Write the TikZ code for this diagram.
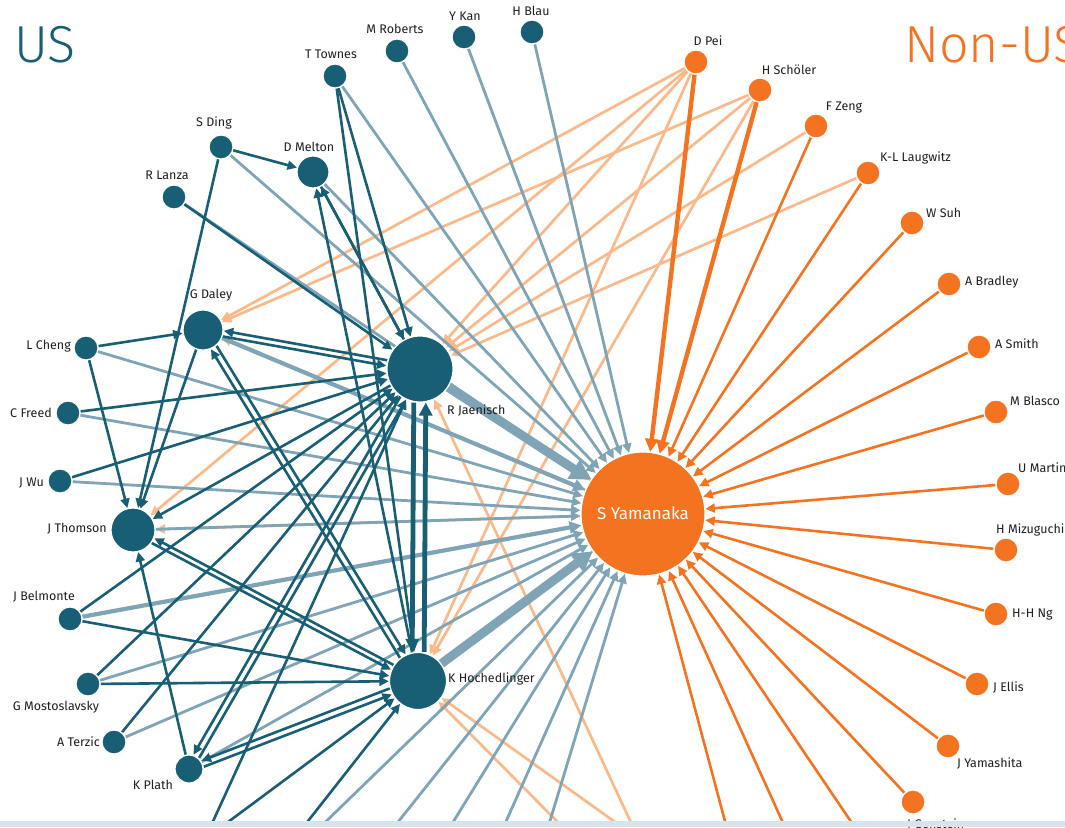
\documentclass[tikz,border=0pt]{standalone}
\usepackage{fontspec}
\setmainfont{Fira Sans}
\newfontfamily\titlefont{Fira Sans Light}
\usetikzlibrary{arrows.meta}
\definecolor{usc}{RGB}{24,94,117}
\definecolor{usl}{RGB}{127,164,182}
\definecolor{nuc}{RGB}{243,115,33}
\definecolor{nul}{RGB}{251,185,138}
\definecolor{band}{RGB}{216,228,236}
\definecolor{txt}{RGB}{30,30,30}
\newcommand\labfont{\fontsize{12.5}{13}\selectfont}
\pgfdeclarelayer{edges}
\pgfsetlayers{edges,main}
\begin{document}
\begin{tikzpicture}[x=1pt,y=-1pt,
  us/.style={circle,fill=usc,draw=white,line width=1.2pt,inner sep=0pt,minimum size=#1},
  nu/.style={circle,fill=nuc,draw=white,line width=1.2pt,inner sep=0pt,minimum size=#1},
  lab/.style={font=\labfont,text=txt,inner sep=0pt},
  dk/.style={draw=usc,line width=2.6pt,-{Triangle[length=9.5pt,width=9pt]}},
  dkt/.style={draw=usc,line width=4.8pt,-{Triangle[length=13pt,width=13pt]}},
  lb/.style={draw=usl,line width=2.8pt,-{Triangle[length=9.5pt,width=9pt]}},
  lbm/.style={draw=usl,line width=4.2pt,-{Triangle[length=12pt,width=12pt]}},
  lbt/.style={draw=usl,line width=9pt,-{Triangle[length=20pt,width=22pt]}},
  lo/.style={draw=nul,line width=2.7pt,-{Triangle[length=9.5pt,width=9pt]}},
  og/.style={draw=nuc,line width=2.6pt,-{Triangle[length=9.5pt,width=9pt]}},
  ogt/.style={draw=nuc,line width=4.4pt,-{Triangle[length=13pt,width=13pt]}},
  sh/.style={transform canvas={shift={#1}}}
]
\useasboundingbox (0,0) rectangle (1065,827);

% titles
\node[font=\titlefont\fontsize{52}{52}\selectfont,text=usc,anchor=west,inner sep=0pt] (tus) at (14,45) {US};
\node[font=\titlefont\fontsize{52}{52}\selectfont,text=nuc,anchor=west,inner sep=0pt] (tnu) at (904,45) {Non-US};

% US nodes
\node[us=24pt] (tt) at (335,76) {};
\node[us=24pt] (mr) at (397,51) {};
\node[us=24pt] (yk) at (464,37) {};
\node[us=24pt] (hb) at (532,32) {};
\node[us=24pt] (sd) at (221,147) {};
\node[us=32pt] (dm) at (313,172) {};
\node[us=24pt] (rl) at (174,197) {};
\node[us=40pt] (gd) at (203,330) {};
\node[us=24pt] (lc) at (86,348) {};
\node[us=24pt] (cf) at (68,413) {};
\node[us=24pt] (jw) at (60,481) {};
\node[us=44pt] (jt) at (133,530) {};
\node[us=24pt] (jb) at (70,619) {};
\node[us=24pt] (gm) at (88,684) {};
\node[us=24pt] (at) at (114,742) {};
\node[us=28pt] (kp) at (189,769) {};
\node[us=66pt] (rj) at (420,369) {};
\node[us=57pt] (kh) at (418,681) {};

% Non-US nodes
\node[nu=24pt] (dp) at (696,62) {};
\node[nu=24pt] (hs) at (760,90) {};
\node[nu=24pt] (fz) at (816,126) {};
\node[nu=24pt] (kl) at (868,173) {};
\node[nu=24pt] (ws) at (912,223) {};
\node[nu=24pt] (ab) at (949,284) {};
\node[nu=24pt] (as) at (979,347) {};
\node[nu=24pt] (mb) at (996,412) {};
\node[nu=24pt] (um) at (1008,484) {};
\node[nu=24pt] (hm) at (1006,550) {};
\node[nu=24pt] (hn) at (996,614) {};
\node[nu=24pt] (je) at (977,684) {};
\node[nu=24pt] (jy) at (948,746) {};
\node[nu=24pt] (jg) at (913,802) {};
\node[nu=124pt] (sy) at (643,514) {};
\node[font=\fontsize{17}{17}\selectfont,text=white,inner sep=0pt] (syl) at (643,513) {S Yamanaka};

% off-screen sources
\coordinate (b1) at (177,900);
\coordinate (b2) at (123,900);
\coordinate (b3) at (246,900);
\coordinate (b4) at (245,900);
\coordinate (b5) at (336,900);
\coordinate (b6) at (405,900);
\coordinate (b7) at (471,900);
\coordinate (b8) at (526,900);
\coordinate (b9) at (635,900);
\coordinate (b10) at (724,900);
\coordinate (b11) at (667,900);
\coordinate (b12) at (746,900);
\coordinate (b13) at (818,900);
\coordinate (b14) at (904,900);

% labels
\node[lab] (ltt) at (331,54) {T Townes};
\node[lab] (lmr) at (395,29) {M Roberts};
\node[lab] (lyk) at (465,16) {Y Kan};
\node[lab] (lhb) at (531,11) {H Blau};
\node[lab] (lsd) at (214,123) {S Ding};
\node[lab] (ldm) at (309,147) {D Melton};
\node[lab] (lrl) at (167,175) {R Lanza};
\node[lab] (lgd) at (211,295) {G Daley};
\node[lab,anchor=east] (llc) at (71,346) {L Cheng};
\node[lab,anchor=east] (lcf) at (52,413) {C Freed};
\node[lab,anchor=east] (ljw) at (44,483) {J Wu};
\node[lab,anchor=east] (ljt) at (107,529) {J Thomson};
\node[lab] (ljb) at (44,597) {J Belmonte};
\node[lab] (lgm) at (56,707) {G Mostoslavsky};
\node[lab,anchor=east] (lat) at (100,742) {A Terzic};
\node[lab] (lkp) at (153,785) {K Plath};
\node[lab,anchor=west] (lrj) at (447,410) {R Jaenisch};
\node[lab,anchor=west] (lkh) at (448,679) {K Hochedlinger};
\node[lab] (ldp) at (708,41) {D Pei};
\node[lab] (lhs) at (789,70) {H Schöler};
\node[lab] (lfz) at (844,108) {F Zeng};
\node[lab,anchor=west] (lkl) at (880,158) {K-L Laugwitz};
\node[lab,anchor=west] (lws) at (926,213) {W Suh};
\node[lab,anchor=west] (lab) at (965,282) {A Bradley};
\node[lab,anchor=west] (las) at (995,344) {A Smith};
\node[lab,anchor=west] (lmb) at (1010,401) {M Blasco};
\node[lab,anchor=west] (lum) at (1018,468) {U Martin};
\node[lab,anchor=west] (lhm) at (996,530) {H Mizuguchi};
\node[lab,anchor=west] (lhn) at (1012,615) {H-H Ng};
\node[lab,anchor=west] (lje) at (993,687) {J Ellis};
\node[lab,anchor=west] (ljy) at (957,763) {J Yamashita};
\node[lab,anchor=west] (ljg) at (907,824) {J Genstein};

% bottom band
\fill[band] (0,821) rectangle (1065,827);

\begin{pgfonlayer}{edges}
\clip (0,0) rectangle (1065,821);
% light orange: non-US -> US
\draw[lo] (dp) -- (gd);
\draw[lo] (hs) -- (gd);
\draw[lo] (dp) -- (jt);
\draw[lo] (dp) -- (rj);
\draw[lo] (hs) -- (rj);
\draw[lo] (fz) -- (rj);
\draw[lo] (kl) -- (rj);
\draw[lo] (dp) -- (kh);
\draw[lo] (hs) -- (kh);
\draw[lo] (sy) -- (jt);
\draw[lo] (sy) -- (gd);
\draw[lo] (sy) -- (rj);
\draw[lo] (sy) -- (kh);
\draw[lo] (b9) -- (kh);
\draw[lo] (b10) -- (kh);
\draw[lo] (b11) -- (rj);
% light blue: US -> non-US
\draw[lb] (tt) -- (sy);
\draw[lb] (mr) -- (sy);
\draw[lb] (yk) -- (sy);
\draw[lb] (hb) -- (sy);
\draw[lb] (sd) -- (sy);
\draw[lb] (dm) -- (sy);
\draw[lb] (rl) -- (sy);
\draw[lbm] (gd) -- (sy);
\draw[lb] (lc) -- (sy);
\draw[lb] (cf) -- (sy);
\draw[lb] (jw) -- (sy);
\draw[lb] (jt) -- (sy);
\draw[lbm] (jb) -- (sy);
\draw[lb] (gm) -- (sy);
\draw[lb] (at) -- (sy);
\draw[lb] (kp) -- (sy);
\draw[lb] (b4) -- (sy);
\draw[lb] (b5) -- (sy);
\draw[lb] (b6) -- (sy);
\draw[lb] (b7) -- (sy);
\draw[lb] (b8) -- (sy);
\draw[lbt] (rj) -- (sy);
\draw[lbt] (kh) -- (sy);
% dark: US -> US
\draw[dk] (sd) -- (dm);
\draw[dk] (sd) -- (jt);
\draw[dk] (lc) -- (gd);
\draw[dk] (lc) -- (jt);
\draw[dk] (gd) -- (jt);
\draw[dk] (rl) -- (rj);
\draw[dk] (tt) -- (rj);
\draw[dk] (tt) -- (kh);
\draw[dk] (dm) -- (rj);
\draw[dk] (cf) -- (rj);
\draw[dk] (jw) -- (rj);
\draw[dk] (jb) -- (rj);
\draw[dk] (gm) -- (rj);
\draw[dk] (at) -- (rj);
\draw[dk] (rj) -- (jt);
\draw[dk,sh={(1.3pt,2.4pt)}] (kh) -- (jt);
\draw[dk,sh={(-1.3pt,-2.4pt)}] (jt) -- (kh);
\draw[dk] (jb) -- (kh);
\draw[dk] (gm) -- (kh);
\draw[dk,sh={(0.5pt,2.8pt)}] (rj) -- (gd);
\draw[dk,sh={(-0.5pt,-2.8pt)}] (gd) -- (rj);
\draw[dk,sh={(2.8pt,1.7pt)}] (gd) -- (kh);
\draw[dk,sh={(-2.8pt,-1.7pt)}] (kh) -- (gd);
\draw[dkt,sh={(-6pt,0pt)}] (rj) -- (kh);
\draw[dkt,sh={(6pt,0pt)}] (kh) -- (rj);
\draw[dk] (rj) -- (dm);
\draw[dk] (kh) -- (dm);
\draw[dk,sh={(2.8pt,-1.6pt)}] (kp) -- (rj);
\draw[dk,sh={(-2.8pt,1.6pt)}] (rj) -- (kp);
\draw[dk,sh={(1.1pt,-3pt)}] (kp) -- (kh);
\draw[dk,sh={(-1.1pt,3pt)}] (kh) -- (kp);
\draw[dk] (kp) -- (jt);
\draw[dk] (b1) -- (rj);
\draw[dk] (b2) -- (kh);
\draw[dk] (b3) -- (kh);
% orange: non-US -> non-US
\draw[ogt] (dp) -- (sy);
\draw[ogt] (hs) -- (sy);
\draw[og] (fz) -- (sy);
\draw[og] (kl) -- (sy);
\draw[og] (ws) -- (sy);
\draw[og] (ab) -- (sy);
\draw[og] (as) -- (sy);
\draw[og] (mb) -- (sy);
\draw[og] (um) -- (sy);
\draw[og] (hm) -- (sy);
\draw[og] (hn) -- (sy);
\draw[og] (je) -- (sy);
\draw[og] (jy) -- (sy);
\draw[og] (jg) -- (sy);
\draw[og] (b12) -- (sy);
\draw[og] (b13) -- (sy);
\draw[og] (b14) -- (sy);
\end{pgfonlayer}
\end{tikzpicture}
\end{document}
